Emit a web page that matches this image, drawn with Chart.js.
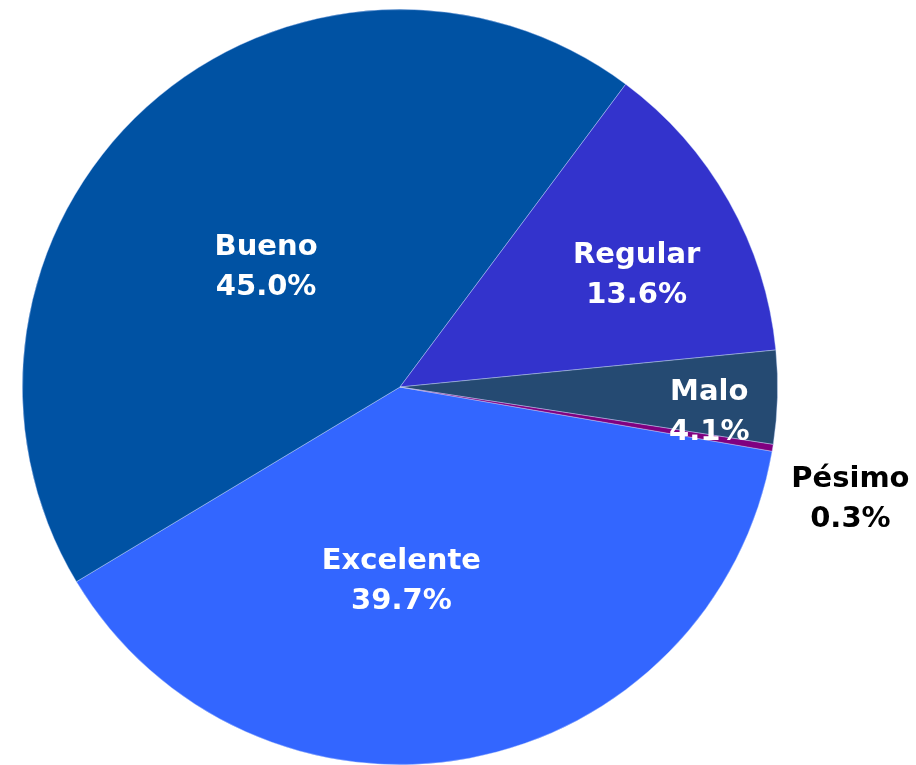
<!DOCTYPE html>
<html>
<head>
<meta charset="utf-8">
<script src="https://cdn.jsdelivr.net/npm/chart.js@4"></script>
<style>
    html, body { margin: 0; padding: 0; background: #fff; }
    #wrap { width: 916px; height: 765px; position: relative; }
</style>
</head>
<body>
<div id="wrap"><canvas id="chart"></canvas></div>
<script>
const categories = ["Excelente", "Bueno", "Regular", "Malo", "Pésimo"];
const shares = [39.7, 45.0, 13.6, 4.1, 0.3];
const sliceColors = ["#3366FF", "#0052A3", "#3333CC", "#254A72", "#800080"];

// label placement per slice: angle shift (deg) from mid-angle, radius fraction, colour
const labelPlacement = [
    { shift: 10.2, r: 0.504, color: "#fff" },
    { shift: -5.2, r: 0.482, color: "#fff" },
    { shift: 3.5, r: 0.697, color: "#fff" },
    { shift: 2.5, r: 0.821, color: "#fff" },
    { shift: 4.3, r: 1.227, color: "#000" }
];

const sliceLabels = {
    id: "sliceLabels",
    afterDatasetsDraw(chart) {
        const ctx = chart.ctx;
        const meta = chart.getDatasetMeta(0);
        ctx.save();
        ctx.font = "bold 29px 'DejaVu Sans'";
        ctx.textAlign = "center";
        ctx.textBaseline = "middle";
        meta.data.forEach((arc, i) => {
            const p = labelPlacement[i];
            const mid = (arc.startAngle + arc.endAngle) / 2 + p.shift * Math.PI / 180;
            const r = arc.outerRadius * p.r;
            const x = arc.x + Math.cos(mid) * r;
            const y = arc.y + Math.sin(mid) * r;
            ctx.fillStyle = p.color;
            ctx.fillText(categories[i], x, y - 16);
            ctx.fillText(shares[i].toFixed(1) + "%", x, y + 24);
        });
        ctx.restore();
    }
};

new Chart(document.getElementById("chart"), {
    type: "pie",
    data: {
        labels: categories,
        datasets: [{
            data: shares,
            backgroundColor: sliceColors,
            borderColor: "rgba(200,215,255,0.55)",
            borderWidth: 0.75
        }]
    },
    options: {
        responsive: true,
        maintainAspectRatio: false,
        animation: false,
        rotation: 99.8,
        layout: {
            padding: { top: 9, left: 21, right: 137, bottom: -2 }
        },
        plugins: {
            legend: { display: false },
            tooltip: { enabled: false }
        }
    },
    plugins: [sliceLabels]
});
</script>
</body>
</html>
